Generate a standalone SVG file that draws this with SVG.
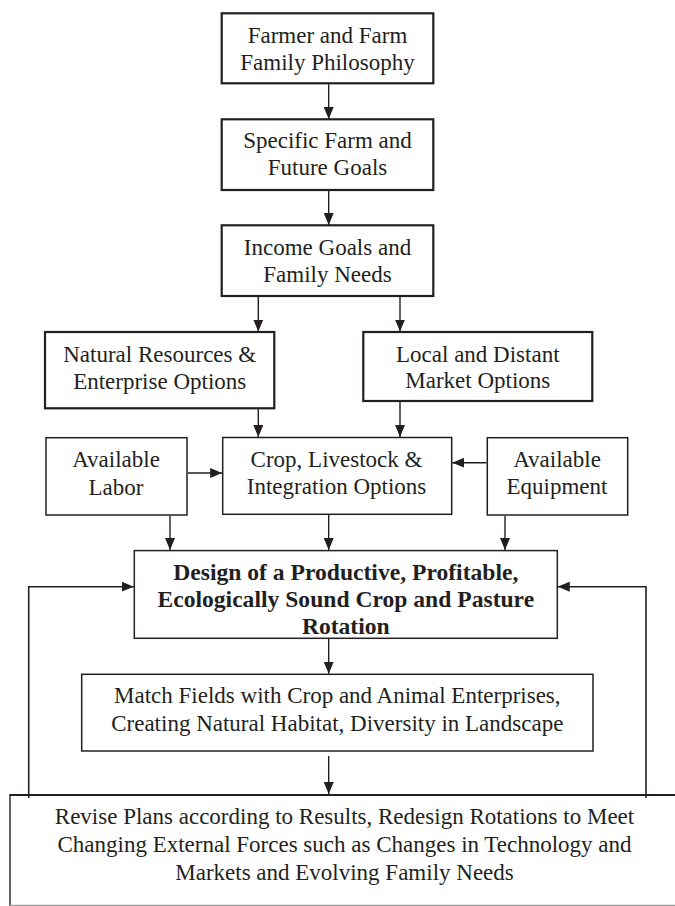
<svg xmlns="http://www.w3.org/2000/svg" width="675" height="906" viewBox="0 0 675 906">
<style>
  text { font-family: "Liberation Serif", "Times New Roman", serif; font-size: 23px; fill: #231f20; text-anchor: middle; }
  .b { font-weight: bold; font-size: 23.6px; }
  .thick { fill: #ffffff; stroke: #231f20; stroke-width: 2.2; }
  .thin { fill: #ffffff; stroke: #231f20; stroke-width: 1.5; }
  .conn { fill: none; stroke: #231f20; stroke-width: 1.4; marker-end: url(#arr); }
  .loop { fill: none; stroke: #231f20; stroke-width: 1.6; marker-end: url(#arr); }
</style>
<defs>
  <marker id="arr" markerUnits="userSpaceOnUse" markerWidth="12" markerHeight="10" refX="12" refY="5" orient="auto">
    <path d="M0,0 L12,5 L0,10 Z" fill="#231f20"/>
  </marker>
</defs>
<rect width="675" height="906" fill="#ffffff"/>

<g id="n-philosophy">
  <rect class="thick" x="221.7" y="13.3" width="211.6" height="70"/>
  <text x="327.5" y="43.3">Farmer and Farm</text>
  <text x="327.5" y="70.2">Family Philosophy</text>
</g>
<g id="n-goals">
  <rect class="thick" x="221.7" y="119.3" width="211.6" height="70.7"/>
  <text x="327.5" y="148.3">Specific Farm and</text>
  <text x="327.5" y="175.1">Future Goals</text>
</g>
<g id="n-income">
  <rect class="thick" x="221.7" y="225.3" width="211.6" height="70.7"/>
  <text x="327.5" y="255">Income Goals and</text>
  <text x="327.5" y="281.7">Family Needs</text>
</g>
<g id="n-natural">
  <rect class="thick" x="45" y="332" width="229.3" height="76.3"/>
  <text x="159.7" y="361.7">Natural Resources &amp;</text>
  <text x="159.7" y="389.3">Enterprise Options</text>
</g>
<g id="n-market">
  <rect class="thick" x="363.3" y="332" width="229" height="69"/>
  <text x="477.8" y="361.7">Local and Distant</text>
  <text x="477.8" y="388.3">Market Options</text>
</g>
<g id="n-labor">
  <rect class="thin" x="46" y="437.7" width="141" height="77.3"/>
  <text x="116" y="466.7">Available</text>
  <text x="116" y="495">Labor</text>
</g>
<g id="n-crop">
  <rect class="thin" x="222.7" y="437.5" width="229" height="76.8"/>
  <text x="336.5" y="466.7">Crop, Livestock &amp;</text>
  <text x="336.5" y="494.3">Integration Options</text>
</g>
<g id="n-equipment">
  <rect class="thin" x="487.3" y="437.7" width="140.4" height="77.3"/>
  <text x="557" y="466.7">Available</text>
  <text x="557" y="494.3">Equipment</text>
</g>
<g id="n-design">
  <rect class="thin" x="134.3" y="550.6" width="423" height="87.7"/>
  <text class="b" x="345.8" y="580">Design of a Productive, Profitable,</text>
  <text class="b" x="345.8" y="606.8">Ecologically Sound Crop and Pasture</text>
  <text class="b" x="345.8" y="633.8">Rotation</text>
</g>
<g id="n-match">
  <rect class="thin" x="81.7" y="674.3" width="511.3" height="76.7"/>
  <text x="337.3" y="703.3">Match Fields with Crop and Animal Enterprises,</text>
  <text x="337.3" y="730.7">Creating Natural Habitat, Diversity in Landscape</text>
</g>
<g id="n-revise">
  <line x1="10" y1="795" x2="676" y2="795" stroke="#231f20" stroke-width="2.2"/>
  <line x1="10" y1="794" x2="10" y2="906" stroke="#231f20" stroke-width="1.4"/>
  <line x1="10" y1="905.3" x2="676" y2="905.3" stroke="#9a9a9a" stroke-width="1.2"/>
  <text x="344.5" y="824">Revise Plans according to Results, Redesign Rotations to Meet</text>
  <text x="344.5" y="852.3">Changing External Forces such as Changes in Technology and</text>
  <text x="344.5" y="880">Markets and Evolving Family Needs</text>
</g>

<g id="connectors">
  <line class="conn" x1="328.7" y1="84.3" x2="328.7" y2="119"/>
  <line class="conn" x1="328.7" y1="191" x2="328.7" y2="225"/>
  <line class="conn" x1="258.3" y1="297" x2="258.3" y2="331.5"/>
  <line class="conn" x1="400" y1="297" x2="400" y2="331.5"/>
  <line class="conn" x1="258.3" y1="409.3" x2="258.3" y2="437"/>
  <line class="conn" x1="400" y1="402" x2="400" y2="437"/>
  <line class="conn" x1="187.7" y1="473" x2="222.2" y2="473"/>
  <line class="conn" x1="486.6" y1="462.7" x2="452.2" y2="462.7"/>
  <line class="conn" x1="170" y1="515.7" x2="170" y2="550"/>
  <line class="conn" x1="328.7" y1="515" x2="328.7" y2="550"/>
  <line class="conn" x1="505" y1="515.7" x2="505" y2="550"/>
  <line class="conn" x1="328.7" y1="639" x2="328.7" y2="673.8"/>
  <line class="conn" x1="328.7" y1="756" x2="328.7" y2="794"/>
  <polyline class="loop" points="28.7,798 28.7,586.7 133.8,586.7"/>
  <polyline class="loop" points="646,798 646,586.7 557.8,586.7"/>
</g>
</svg>
